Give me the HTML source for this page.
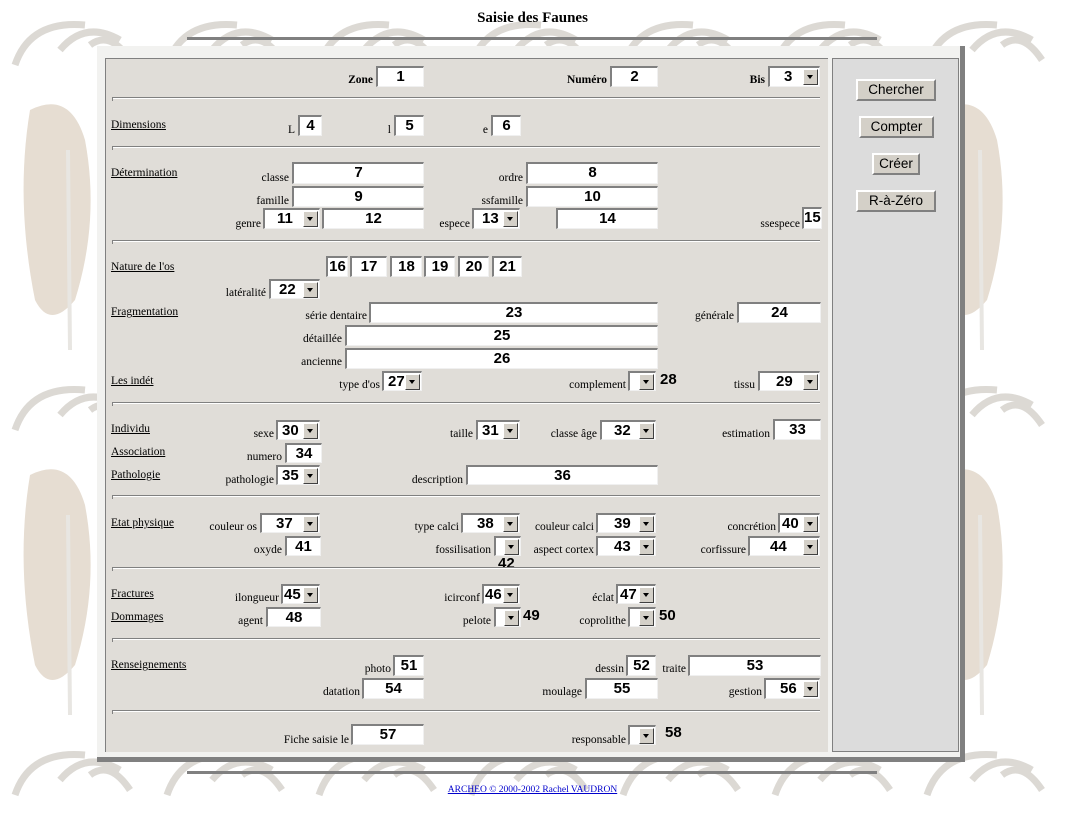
<!DOCTYPE html>
<html><head><meta charset="utf-8"><style>
body{margin:0;width:1065px;height:826px;position:relative;overflow:hidden;background:#fff;font-family:"Liberation Serif",serif}
.b,.s{position:absolute;background:#fff;border-top:2px solid #808080;border-left:2px solid #808080;border-bottom:1px solid #f0f0f0;border-right:1px solid #f0f0f0;box-sizing:border-box;font:bold 15px "Liberation Sans",sans-serif;text-align:center;line-height:18px;color:#000}
.s{text-align:left;padding-left:8px}
.s i{position:absolute;right:1px;top:1px;width:15px;height:16px;background:#d4d0c8;border-top:1px solid #fff;border-left:1px solid #fff;border-right:1px solid #404040;border-bottom:1px solid #404040;box-sizing:border-box}
.s i:after{content:"";position:absolute;left:3px;top:5px;border-left:3.5px solid transparent;border-right:3.5px solid transparent;border-top:4px solid #000}
.l{position:absolute;font-size:11.5px;transform:translateX(-100%);white-space:nowrap;color:#000;margin-top:3px}
.h{position:absolute;left:111px;font-size:11.5px;text-decoration:underline;color:#000;margin-top:2px}
.hr{position:absolute;left:112px;width:708px;height:0;border-top:1px solid #808080;border-bottom:1px solid #fff}
.hr:before{content:"";position:absolute;left:0;top:-1px;width:1px;height:4px;background:#808080}
.n{position:absolute;font:bold 15px "Liberation Sans",sans-serif}
.btn{position:absolute;height:22px;background:#d4d0c8;border-top:2px solid #fff;border-left:2px solid #fff;border-right:2px solid #808080;border-bottom:2px solid #808080;box-sizing:border-box;font:13.5px "Liberation Sans",sans-serif;text-align:center;line-height:18px}
</style></head><body>
<svg width="1065" height="826" style="position:absolute;left:0;top:0">
<defs><pattern id="p" width="152" height="365" patternUnits="userSpaceOnUse" x="-10" y="0">
<g fill="none" stroke="#dcd9d4" stroke-width="7">
<path d="M25 65 Q40 20 95 25"/><path d="M70 50 Q95 20 130 40"/><path d="M100 45 Q120 30 140 60"/>
</g>
<path d="M40 110 Q80 90 95 140 Q110 220 85 300 Q60 330 45 300 Q25 200 40 110Z" fill="#e6ddd2"/>
<path d="M78 150 L80 350" stroke="#e8e6e2" stroke-width="4"/>
</pattern></defs>
<rect width="1065" height="826" fill="url(#p)"/>
</svg>
<div style="position:absolute;left:0;width:1065px;top:10px;text-align:center;font-weight:bold;font-size:15px">Saisie des Faunes</div>
<div style="position:absolute;left:187px;top:37px;width:690px;height:3px;background:#808080"></div>
<div style="position:absolute;left:187px;top:771px;width:690px;height:3px;background:#808080"></div>
<div style="position:absolute;left:0;width:1065px;top:785px;text-align:center;font-size:9.5px"><a style="color:#00c;text-decoration:underline">ARCHEO © 2000-2002 Rachel VAUDRON</a></div>
<!-- frame -->
<div style="position:absolute;left:97px;top:46px;width:868px;height:716px;background:#f2f2f0;border-right:5px solid #808080;border-bottom:5px solid #808080;box-sizing:border-box"></div>
<div style="position:absolute;left:105px;top:58px;width:723px;height:694px;background:#e0ddd8;border-top:1px solid #808080;border-left:1px solid #808080;box-sizing:border-box"></div>
<div style="position:absolute;left:832px;top:58px;width:127px;height:694px;background:#dcdcdc;border:1px solid #808080;box-sizing:border-box"></div>
<div class="btn" style="left:856px;top:79px;width:80px">Chercher</div>
<div class="btn" style="left:859px;top:116px;width:75px">Compter</div>
<div class="btn" style="left:872px;top:153px;width:48px">Créer</div>
<div class="btn" style="left:856px;top:190px;width:80px">R-à-Zéro</div>

<div class="l" style="left:373px;top:71px;font-weight:bold">Zone</div><div class="b" style="left:376px;top:66px;width:48px;height:21px">1</div>
<div class="l" style="left:607px;top:71px;font-weight:bold">Numéro</div><div class="b" style="left:610px;top:66px;width:48px;height:21px">2</div>
<div class="l" style="left:765px;top:71px;font-weight:bold">Bis</div><div class="s" style="left:768px;top:66px;width:52px;height:21px;padding-left:14px">3<i></i></div>
<div class="hr" style="top:97px"></div>

<div class="h" style="top:117px">Dimensions</div>
<div class="l" style="left:295px;top:121px">L</div><div class="b" style="left:298px;top:115px;width:24px;height:21px">4</div>
<div class="l" style="left:391px;top:121px">l</div><div class="b" style="left:394px;top:115px;width:30px;height:21px">5</div>
<div class="l" style="left:488px;top:121px">e</div><div class="b" style="left:491px;top:115px;width:30px;height:21px">6</div>
<div class="hr" style="top:146px"></div>

<div class="h" style="top:165px">Détermination</div>
<div class="l" style="left:289px;top:169px">classe</div><div class="b" style="left:292px;top:162px;width:132px;height:22px">7</div>
<div class="l" style="left:523px;top:169px">ordre</div><div class="b" style="left:526px;top:162px;width:132px;height:22px">8</div>
<div class="l" style="left:289px;top:192px">famille</div><div class="b" style="left:292px;top:186px;width:132px;height:21px">9</div>
<div class="l" style="left:523px;top:192px">ssfamille</div><div class="b" style="left:526px;top:186px;width:132px;height:21px">10</div>
<div class="l" style="left:261px;top:215px">genre</div><div class="s" style="left:263px;top:208px;width:57px;height:21px;padding-left:12px">11<i></i></div>
<div class="b" style="left:322px;top:208px;width:102px;height:21px">12</div>
<div class="l" style="left:470px;top:215px">espece</div><div class="s" style="left:472px;top:208px;width:48px;height:21px">13<i></i></div>
<div class="b" style="left:556px;top:208px;width:102px;height:21px">14</div>
<div class="l" style="left:800px;top:215px">ssespece</div><div class="b" style="left:802px;top:207px;width:20px;height:22px;text-align:left;padding-left:0">15</div>
<div class="hr" style="top:240px"></div>

<div class="h" style="top:259px">Nature de l'os</div>
<div class="b" style="left:326px;top:256px;width:22px;height:21px">16</div>
<div class="b" style="left:350px;top:256px;width:37px;height:21px">17</div>
<div class="b" style="left:390px;top:256px;width:32px;height:21px">18</div>
<div class="b" style="left:424px;top:256px;width:31px;height:21px">19</div>
<div class="b" style="left:458px;top:256px;width:31px;height:21px">20</div>
<div class="b" style="left:492px;top:256px;width:30px;height:21px">21</div>
<div class="l" style="left:266px;top:284px">latéralité</div><div class="s" style="left:269px;top:279px;width:51px;height:20px">22<i></i></div>

<div class="h" style="top:304px">Fragmentation</div>
<div class="l" style="left:367px;top:307px">série dentaire</div><div class="b" style="left:369px;top:302px;width:289px;height:21px">23</div>
<div class="l" style="left:734px;top:307px">générale</div><div class="b" style="left:737px;top:302px;width:84px;height:21px">24</div>
<div class="l" style="left:342px;top:330px">détaillée</div><div class="b" style="left:345px;top:325px;width:313px;height:21px">25</div>
<div class="l" style="left:342px;top:353px">ancienne</div><div class="b" style="left:345px;top:348px;width:313px;height:21px">26</div>
<div class="h" style="top:373px">Les indét</div>
<div class="l" style="left:380px;top:376px">type d'os</div><div class="s" style="left:382px;top:371px;width:40px;height:20px;padding-left:4px">27<i></i></div>
<div class="l" style="left:626px;top:376px">complement</div><div class="s" style="left:628px;top:371px;width:28px;height:20px"><i></i></div><div class="n" style="left:660px;top:371px">28</div>
<div class="l" style="left:755px;top:376px">tissu</div><div class="s" style="left:758px;top:371px;width:62px;height:20px;padding-left:16px">29<i></i></div>
<div class="hr" style="top:402px"></div>

<div class="h" style="top:421px">Individu</div>
<div class="l" style="left:274px;top:425px">sexe</div><div class="s" style="left:276px;top:420px;width:44px;height:20px;padding-left:4px">30<i></i></div>
<div class="l" style="left:473px;top:425px">taille</div><div class="s" style="left:476px;top:420px;width:44px;height:20px;padding-left:4px">31<i></i></div>
<div class="l" style="left:597px;top:425px">classe âge</div><div class="s" style="left:600px;top:420px;width:56px;height:20px;padding-left:12px">32<i></i></div>
<div class="l" style="left:770px;top:425px">estimation</div><div class="b" style="left:773px;top:419px;width:48px;height:21px">33</div>
<div class="h" style="top:444px">Association</div>
<div class="l" style="left:282px;top:448px">numero</div><div class="b" style="left:285px;top:443px;width:37px;height:20px">34</div>
<div class="h" style="top:467px">Pathologie</div>
<div class="l" style="left:274px;top:471px">pathologie</div><div class="s" style="left:276px;top:465px;width:44px;height:20px;padding-left:4px">35<i></i></div>
<div class="l" style="left:463px;top:471px">description</div><div class="b" style="left:466px;top:465px;width:192px;height:20px">36</div>
<div class="hr" style="top:495px"></div>

<div class="h" style="top:515px">Etat physique</div>
<div class="l" style="left:257px;top:518px">couleur os</div><div class="s" style="left:260px;top:513px;width:60px;height:20px;padding-left:14px">37<i></i></div>
<div class="l" style="left:459px;top:518px">type calci</div><div class="s" style="left:461px;top:513px;width:59px;height:20px;padding-left:14px">38<i></i></div>
<div class="l" style="left:594px;top:518px">couleur calci</div><div class="s" style="left:596px;top:513px;width:60px;height:20px;padding-left:16px">39<i></i></div>
<div class="l" style="left:776px;top:518px">concrétion</div><div class="s" style="left:778px;top:513px;width:42px;height:20px;padding-left:2px">40<i></i></div>
<div class="l" style="left:282px;top:541px">oxyde</div><div class="b" style="left:285px;top:536px;width:36px;height:20px">41</div>
<div class="l" style="left:491px;top:541px">fossilisation</div><div class="s" style="left:494px;top:536px;width:27px;height:20px"><i></i></div><div class="n" style="left:498px;top:555px">42</div>
<div class="l" style="left:594px;top:541px">aspect cortex</div><div class="s" style="left:596px;top:536px;width:60px;height:20px;padding-left:16px">43<i></i></div>
<div class="l" style="left:746px;top:541px">corfissure</div><div class="s" style="left:748px;top:536px;width:72px;height:20px;padding-left:20px">44<i></i></div>
<div class="hr" style="top:567px"></div>

<div class="h" style="top:586px">Fractures</div>
<div class="l" style="left:279px;top:589px">ilongueur</div><div class="s" style="left:281px;top:584px;width:39px;height:20px;padding-left:1px">45<i></i></div>
<div class="l" style="left:480px;top:589px">icirconf</div><div class="s" style="left:482px;top:584px;width:38px;height:20px;padding-left:1px">46<i></i></div>
<div class="l" style="left:614px;top:589px">éclat</div><div class="s" style="left:616px;top:584px;width:40px;height:20px;padding-left:2px">47<i></i></div>
<div class="h" style="top:609px">Dommages</div>
<div class="l" style="left:263px;top:612px">agent</div><div class="b" style="left:266px;top:607px;width:55px;height:20px">48</div>
<div class="l" style="left:491px;top:612px">pelote</div><div class="s" style="left:494px;top:607px;width:27px;height:20px"><i></i></div><div class="n" style="left:523px;top:607px">49</div>
<div class="l" style="left:626px;top:612px">coprolithe</div><div class="s" style="left:628px;top:607px;width:28px;height:20px"><i></i></div><div class="n" style="left:659px;top:607px">50</div>
<div class="hr" style="top:638px"></div>

<div class="h" style="top:657px">Renseignements</div>
<div class="l" style="left:391px;top:660px">photo</div><div class="b" style="left:393px;top:655px;width:31px;height:21px">51</div>
<div class="l" style="left:624px;top:660px">dessin</div><div class="b" style="left:626px;top:655px;width:30px;height:21px">52</div>
<div class="l" style="left:686px;top:660px">traite</div><div class="b" style="left:688px;top:655px;width:133px;height:21px">53</div>
<div class="l" style="left:360px;top:683px">datation</div><div class="b" style="left:362px;top:678px;width:62px;height:21px">54</div>
<div class="l" style="left:582px;top:683px">moulage</div><div class="b" style="left:585px;top:678px;width:73px;height:21px">55</div>
<div class="l" style="left:762px;top:683px">gestion</div><div class="s" style="left:764px;top:678px;width:56px;height:21px;padding-left:14px">56<i></i></div>
<div class="hr" style="top:710px"></div>

<div class="l" style="left:349px;top:731px">Fiche saisie le</div><div class="b" style="left:351px;top:724px;width:73px;height:21px">57</div>
<div class="l" style="left:626px;top:731px">responsable</div><div class="s" style="left:628px;top:725px;width:28px;height:20px"><i></i></div><div class="n" style="left:665px;top:724px">58</div>
</body></html>
